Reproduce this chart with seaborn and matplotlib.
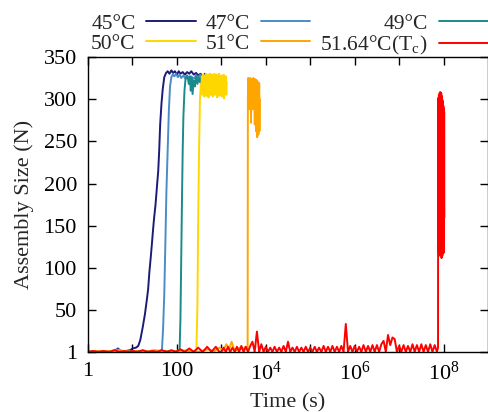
import matplotlib
matplotlib.use("Agg")
import matplotlib.pyplot as plt
import pandas as pd
import seaborn as sns

sns.set_theme(style="ticks")
plt.rcParams['font.family'] = ['Liberation Serif', 'DejaVu Serif']
plt.rcParams['mathtext.fontset'] = 'stix'

# values (time in s, assembly size N)
t45 = [1, 2, 3, 4, 4.7, 5.5, 7, 9, 10, 12, 13.5, 15, 17, 19, 21, 22.5, 24, 26, 27.5, 29,
       30.5, 33, 36, 38, 40, 42, 45, 48, 52, 57, 62, 68, 75, 82, 90, 100, 110, 120, 135,
       150, 170, 190, 210, 240, 270, 300, 340, 380, 430, 480]
v45 = [1, 1, 2, 2, 5, 2, 2, 3, 5, 6, 8, 15, 30, 45, 62, 75, 95, 115, 130, 145,
       158, 175, 200, 215, 240, 270, 295, 312, 326, 331, 333, 330, 334, 331, 333, 329, 333, 330, 332,
       329, 332, 330, 333, 329, 331, 328, 330, 327, 330, 328]

t47 = [1, 3, 4.5, 6, 10, 20, 30, 40, 46, 49, 52, 55, 58, 62, 66, 70, 75, 80, 88, 95,
       105, 115, 125, 140, 155, 170, 190, 210, 240, 270, 300, 340, 380, 420, 470, 520, 600, 700, 800]
v47 = [1, 1, 4, 1, 2, 2, 2, 2, 3, 30, 70, 130, 190, 240, 287, 315, 326, 329, 327, 330,
       326, 329, 325, 328, 324, 328, 323, 327, 324, 328, 326, 329, 325, 328, 326, 329, 326, 328, 326]

t49 = [1, 5, 10, 20, 40, 70, 100, 115, 120, 125, 130, 135, 140, 148, 155, 165, 175, 185, 195,
       205, 215, 225, 240, 255, 270, 290, 310, 330, 360, 390, 420, 460, 500, 550, 600, 650, 700, 760]
v49 = [1, 2, 1, 2, 1, 2, 2, 3, 40, 110, 180, 240, 280, 310, 322, 328, 326, 318, 327,
       310, 325, 306, 322, 315, 327, 318, 326, 320, 328, 322, 327, 323, 328, 324, 327, 325, 328, 326]

t50 = [1, 4, 10, 30, 80, 150, 230, 275, 290, 300, 315, 330,
       345, 355, 365, 375, 385, 395, 405, 415, 425, 437, 450, 462, 475, 488, 500, 515, 530,
       545, 560, 575, 590, 605, 620, 640, 660, 680, 700, 720, 740, 760, 785, 810, 835, 860,
       885, 910, 940, 970, 1000, 1030, 1060, 1090, 1120, 1150, 1185, 1220, 1255, 1290, 1320]
v50 = [1, 2, 1, 2, 1, 2, 2, 3, 60, 150, 240, 300,
       318, 308, 327, 305, 329, 310, 326, 303, 328, 309, 330, 304, 325, 311, 329, 302, 327,
       308, 330, 305, 326, 312, 329, 303, 327, 307, 330, 305, 325, 310, 329, 302, 326, 308,
       330, 304, 327, 309, 328, 303, 326, 308, 329, 301, 325, 307, 327, 305, 320]

t51 = [1, 2, 3, 5, 8, 12, 20, 30, 50, 80, 120, 200, 300, 500, 700, 900, 1100, 1300, 1500,
       1700, 1900, 2200, 2600, 3000, 3500, 3900,
       3950, 4020, 4090, 4160, 4230, 4300, 4370, 4440, 4510, 4580, 4650, 4720, 4800, 4880,
       4960, 5040, 5120, 5200, 5290, 5380, 5470, 5560, 5650, 5740, 5830, 5920, 6010, 6100,
       6200, 6300, 6400, 6500, 6600, 6700, 6800, 6900, 7000, 7100, 7200, 7300]
v51 = [1, 2, 1, 3, 1, 2, 1, 3, 2, 1, 3, 2, 1, 4, 2, 6, 3, 10, 4,
       13, 5, 3, 6, 4, 7, 3,
       300, 325, 290, 324, 294, 322, 288, 325, 296, 320, 272, 323, 292, 324,
       288, 321, 295, 325, 289, 322, 293, 324, 270, 321, 290, 323, 262, 320,
       288, 322, 255, 318, 285, 320, 258, 317, 280, 319, 262, 300]

tc = [1, 1.3, 1.7, 2.2, 3, 4, 5, 6.5, 8, 10, 13, 17, 22, 28, 36, 46, 60, 75, 95, 120,
      150, 190, 240, 300, 380, 480, 600, 750, 900,
      1.0e3, 1.12e3, 1.26e3, 1.41e3, 1.58e3, 1.78e3, 2.0e3, 2.24e3, 2.51e3, 2.82e3,
      3.16e3, 3.55e3, 3.98e3, 4.47e3, 5.01e3, 5.62e3, 6.31e3, 7.08e3, 7.94e3, 8.91e3,
      1.0e4, 1.12e4, 1.26e4, 1.41e4, 1.58e4, 1.78e4, 2.0e4, 2.24e4, 2.51e4, 2.82e4,
      3.16e4, 3.55e4, 3.98e4, 4.47e4, 5.01e4, 5.62e4, 6.31e4, 7.08e4, 7.94e4, 8.91e4,
      1.0e5, 1.12e5, 1.26e5, 1.41e5, 1.58e5, 1.78e5, 2.0e5, 2.24e5, 2.51e5, 2.82e5,
      3.16e5, 3.55e5, 3.98e5, 4.47e5, 5.01e5, 5.62e5, 6.31e5, 7.08e5, 7.94e5, 8.91e5,
      1.0e6, 1.12e6, 1.26e6, 1.41e6, 1.58e6, 1.78e6, 2.0e6, 2.24e6, 2.51e6, 2.82e6,
      3.16e6, 3.55e6, 3.98e6, 4.47e6, 5.01e6, 5.62e6, 6.31e6, 7.08e6, 7.94e6, 8.91e6,
      1.0e7, 1.12e7, 1.26e7, 1.41e7, 1.58e7, 1.78e7, 2.0e7, 2.24e7, 2.51e7, 2.82e7,
      3.16e7, 3.55e7, 3.98e7, 4.47e7, 5.01e7, 5.62e7, 6.31e7, 7.08e7, 7.5e7,
      7.55e7, 7.6e7, 7.65e7, 7.7e7, 7.75e7, 7.8e7, 7.85e7, 7.9e7, 7.95e7, 8.0e7, 8.05e7,
      8.1e7, 8.15e7, 8.2e7, 8.25e7, 8.3e7, 8.35e7, 8.4e7, 8.45e7, 8.5e7, 8.55e7, 8.6e7,
      8.65e7, 8.7e7, 8.75e7, 8.8e7, 8.85e7, 8.9e7, 8.95e7, 9.0e7, 9.1e7, 9.2e7, 9.3e7,
      9.4e7, 9.5e7, 9.6e7, 9.7e7, 9.8e7, 9.9e7, 1.0e8, 1.01e8, 1.02e8, 1.03e8, 1.04e8]
vc = [1, 2, 1, 2, 1, 3, 1, 2, 1, 2, 1, 3, 1, 2, 1, 3, 1, 3, 1, 4,
      1, 5, 1, 6, 1, 7, 1, 7, 1,
      1, 6, 1, 7, 1, 6, 1, 7, 1, 8, 1, 7, 1, 8, 13, 1, 25, 1, 10, 1,
      7, 1, 6, 1, 7, 1, 6, 1, 8, 1, 13, 1, 6, 1, 7, 1, 6, 1, 7, 1,
      6, 1, 7, 1, 6, 1, 8, 1, 7, 1, 8, 1, 7, 1, 8, 1, 34, 1, 8, 1,
      8, 1, 7, 1, 9, 1, 8, 1, 9, 1, 9, 1, 10, 14, 1, 21, 9, 18, 16, 1,
      8, 1, 9, 1, 8, 1, 10, 1, 9, 1, 10, 1, 9, 1, 10, 1, 9, 1, 6,
      250, 120, 300, 140, 302, 170, 305, 130, 300, 160, 306,
      115, 303, 180, 308, 150, 306, 125, 304, 200, 308, 140,
      305, 118, 303, 190, 307, 130, 304, 112, 302, 150, 300,
      115, 298, 125, 296, 140, 292, 118, 288, 130, 285, 160]

labels = ['45°C', '47°C', '49°C', '50°C', '51°C', r'51.64°C(T$_\mathregular{c}$)']
colors = ['#1c1c78', '#4a8cc6', '#1b8a8a', '#ffd700', '#ffa500', '#ff0000']
series_t = [t45, t47, t49, t50, t51, tc]
series_v = [v45, v47, v49, v50, v51, vc]

frames = []
for lab, t, v in zip(labels, series_t, series_v):
    frames.append(pd.DataFrame({'t': t, 'v': v, 'series': lab}))
df = pd.concat(frames, ignore_index=True)

fig = plt.figure(figsize=(4.89, 4.12), dpi=100)
ax = fig.add_axes([0.180, 0.146, 0.818, 0.716])

sns.lineplot(data=df, x='t', y='v', hue='series', palette=dict(zip(labels, colors)),
             estimator=None, sort=False, lw=1.4, ax=ax, legend=False)

ax.set_xscale('log')
ax.set_xlim(1, 1e9)
ax.set_ylim(1, 350)

xticks = [10.0 ** k for k in range(0, 9)]
xlabels = ['1', '', '100', '', r'$\mathregular{10^4}$', '', r'$\mathregular{10^6}$', '',
           r'$\mathregular{10^8}$']
ax.set_xticks(xticks)
ax.set_xticklabels(xlabels)
ax.xaxis.set_minor_locator(matplotlib.ticker.NullLocator())
ax.set_yticks([1, 50, 100, 150, 200, 250, 300, 350])
ax.set_yticklabels(['1', '50', '100', '150', '200', '250', '300', '350'])

ax.tick_params(direction='in', top=True, right=True, length=6, width=1,
               labelsize=16, colors='black')
ax.tick_params(axis='y', pad=8)
ax.tick_params(axis='x', pad=7)
for s in ax.spines.values():
    s.set_visible(True)
    s.set_color('black')
    s.set_linewidth(1)

ax.set_xlabel('Time (s)', fontsize=16, labelpad=6)
ax.set_ylabel('Assembly Size (N)', fontsize=16, labelpad=7)

handles = [matplotlib.lines.Line2D([], [], color=c, lw=1.4) for c in colors]
order = [0, 3, 1, 4, 2, 5]
ax.legend([handles[i] for i in order], [labels[i] for i in order], ncol=3,
          markerfirst=False, frameon=False, fontsize=15.5, handlelength=2.3,
          handletextpad=0.5, columnspacing=0.45, labelspacing=0.0,
          loc='lower right', bbox_to_anchor=(1.0, 1.0), borderaxespad=0,
          borderpad=0)

fig.savefig('out.png', dpi=100)
